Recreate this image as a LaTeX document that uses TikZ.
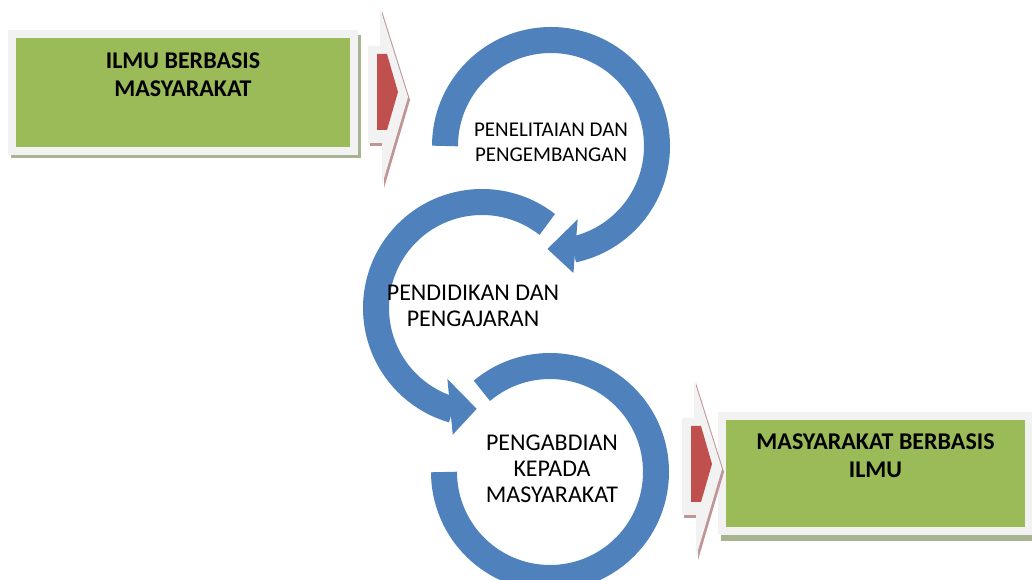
\documentclass[tikz,border=0pt]{standalone}
\usepackage{fontspec}
\setmainfont{Carlito}
\usepackage{xcolor}
\usepackage{tikz}
\usetikzlibrary{positioning,calc}

\definecolor{boxgreen}{HTML}{9BBB59}
\definecolor{framegray}{HTML}{F2F2F2}
\definecolor{shadegreen}{RGB}{168,180,145}
\definecolor{ringblue}{HTML}{4F81BD}
\definecolor{tipred}{HTML}{C0504D}
\definecolor{shaderose}{RGB}{190,150,150}

\begin{document}
\begin{tikzpicture}[x=1pt,y=1pt,
  greenbox/.style={fill=boxgreen, draw=framegray, line width=8pt, inner sep=0pt},
  boxtext/.style={align=center, font=\bfseries\fontsize{24}{28}\selectfont, inner sep=0pt},
  ring/.style={draw=ringblue, line width=26pt},
  ringtext/.style={align=center, font=\fontsize{21}{25}\selectfont, inner sep=0pt},
  bigringtext/.style={ringtext, font=\fontsize{24}{26}\selectfont}]
\useasboundingbox (0,0) rectangle (1032,580);
\clip (0,0) rectangle (1032,580);

\fill[shadegreen] (11,422) rectangle (361,545);
\node[greenbox, minimum width=342pt, minimum height=117pt] (ilmu) at (183,487.5) {};
\node[boxtext, below=23pt of ilmu.north] (ilmutext) {ILMU BERBASIS\\MASYARAKAT};

\fill[shadegreen] (721,39) rectangle (1036,160);
\node[greenbox, minimum width=307pt, minimum height=115pt] (masy) at (875.5,106.5) {};
\node[boxtext, below=22pt of masy.north] (masytext) {MASYARAKAT BERBASIS\\ILMU};

\foreach \dx/\dy in {0/0, 314/-372} {
  \begin{scope}[shift={(\dx,\dy)}]
    \fill[shaderose] (382,569) -- (410,480) -- (384,392) -- (384,434) -- (370,434) -- (370,531) -- (382,531) -- cycle;
    \fill[framegray] (380,572) -- (408,483) -- (382,395) -- (382,437) -- (368,437) -- (368,534) -- (380,534) -- cycle;
    \fill[tipred] (377,526) -- (387,526) -- (398,488) -- (387,450) -- (377,450) -- cycle;
  \end{scope}
}

\coordinate (c1) at (551,434);
\coordinate (c2) at (482,272);
\coordinate (c3) at (550,108);

\draw[ring] ($(c1)+(180:106)$) arc[start angle=180, end angle=-78, radius=106];
\fill[ringblue] ($(c1)+(-70:78)$) -- ($(c1)+(-80:129)$) -- ($(c1)+(-92:103)$) -- cycle;
\draw[ring] ($(c2)+(52:106)$) arc[start angle=52, end angle=254, radius=106];
\fill[ringblue] ($(c2)+(244:79)$) -- ($(c2)+(257:130)$) -- ($(c2)+(267:101)$) -- cycle;
\draw[ring] ($(c3)+(130:106)$) arc[start angle=130, end angle=-180, radius=106];

\node[ringtext] (research) at (551,437.5) {PENELITAIAN DAN\\PENGEMBANGAN};
\node[bigringtext] (teaching) at (473,274.5) {PENDIDIKAN DAN\\PENGAJARAN};
\node[bigringtext] (service) at (552,111) {PENGABDIAN\\KEPADA\\MASYARAKAT};
\end{tikzpicture}
\end{document}
